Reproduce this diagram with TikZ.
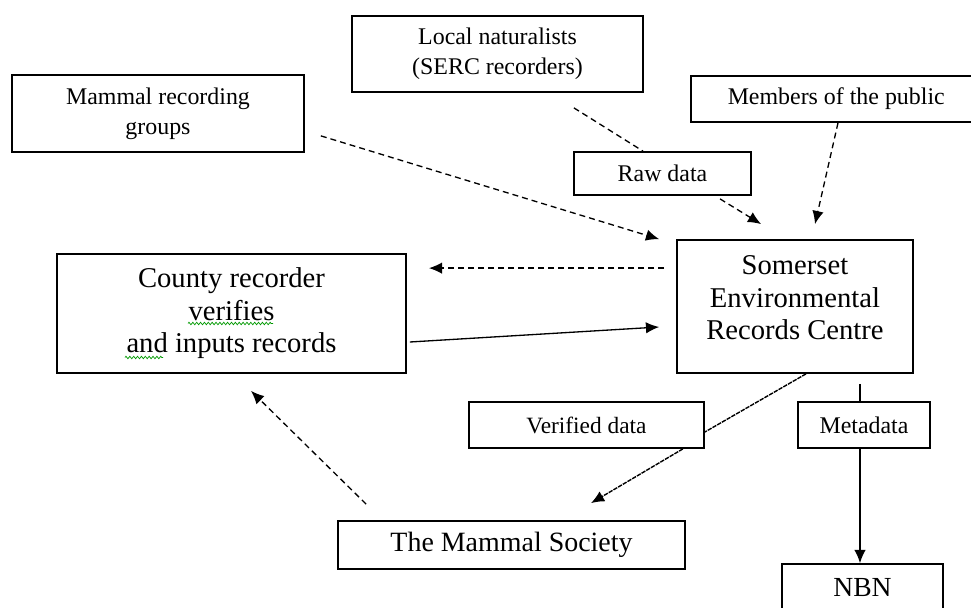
\documentclass[tikz,border=0pt]{standalone}
\usepackage{fontspec}
\setmainfont{Liberation Serif}
\usetikzlibrary{arrows.meta,decorations.pathmorphing}
\begin{document}
\begin{tikzpicture}[x=0.02cm,y=-0.02cm,
  box/.style 2 args={draw,line width=1pt,minimum width=#1*0.02cm,minimum height=#2*0.02cm,inner sep=0pt,align=center},
  small/.style={font=\fontsize{13.6}{17.3}\selectfont},
  big/.style={font=\fontsize{16.3}{18.5}\selectfont},
  dline/.style={line width=.75pt,dash pattern=on 3.4pt off 2.3pt},
  fline/.style={line width=.8pt,dash pattern=on 2.5pt off .6pt},
  arr/.style={-{Latex[length=7.5pt,width=6.5pt]}},
  squiggle/.style={draw=green!60!black,line width=.4pt,decorate,decoration={zigzag,segment length=2.2pt,amplitude=.7pt}}]
\useasboundingbox (0,0) rectangle (971,608);
\node[box={292}{77},small] (mrg) at (158,113.5) {Mammal recording\\groups};
\node[box={291}{76},small] (locnat) at (497.5,54) {Local naturalists\\(SERC recorders)};
\node[box={294}{46},small] (public) at (838,99) {\hspace*{-2pt}Members of the public};
\node[box={177}{43},small] (raw) at (662.5,173.5) {Raw data};
\node[box={236}{133},big] (serc) at (795,306.5) {Somerset\\Environmental\\Records Centre\rule[-10pt]{0pt}{10pt}};
\node[box={349}{119},big] (county) at (231.5,313.5) {County recorder\\verifies\\and inputs records};
\node[box={235}{46},font=\fontsize{13.3}{16}\selectfont] (verified) at (586.5,425) {Verified data};
\node[box={132}{46},small] (meta) at (864,425) {Metadata};
\node[box={347}{48},font=\fontsize{15.9}{18}\selectfont] (society) at (511.5,545) {The Mammal Society};
\node[box={161}{48},font=\fontsize{15.7}{18}\selectfont] (nbn) at (862.5,588) {NBN};
\draw[squiggle] ([shift={(-43.5,10)}]county.center) -- ([shift={(41.5,10)}]county.center);
\draw[squiggle] ([shift={(-106.5,44)}]county.center) -- ([shift={(-68.5,44)}]county.center);
\draw[dline,arr] ([shift={(16,-17)}]mrg.south east) -- ([shift={(-17,0)}]serc.north west);
\draw[dline] ([shift={(-70,15)}]locnat.south east) -- ([shift={(-19.5,0)}]raw.north);
\draw[dline,arr] ([shift={(57.5,3)}]raw.south) -- ([shift={(85,-15)}]serc.north west);
\draw[dline,arr] (public.south) -- ([shift={(20,-15)}]serc.north);
\draw[dline,arr] ([shift={(-12,29)}]serc.north west) -- ([shift={(22,15)}]county.north east);
\draw[line width=.75pt,arr] ([shift={(3,28.5)}]county.east) -- ([shift={(-17,20.5)}]serc.west);
\draw[dline,arr] ([shift={(29,-16)}]society.north west) -- ([shift={(19.5,17)}]county.south);
\draw[fline] ([shift={(11,0)}]serc.south) -- ([shift={(0,7)}]verified.east);
\draw[fline,arr] ([shift={(-22,0)}]verified.south east) -- ([shift={(79.5,-17)}]society.north);
\draw[line width=.75pt] ([shift={(65,10)}]serc.south) -- ([shift={(-4,0)}]meta.north);
\draw[line width=.75pt,arr] ([shift={(-4,0)}]meta.south) -- ([shift={(-2.5,0)}]nbn.north);
\end{tikzpicture}
\end{document}
